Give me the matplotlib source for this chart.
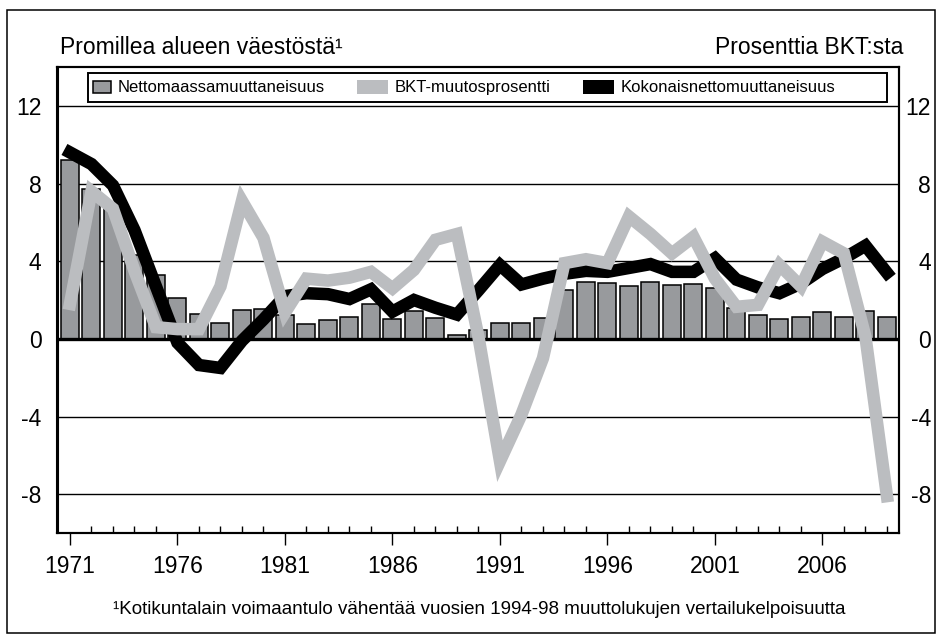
import matplotlib
matplotlib.use('Agg')
import matplotlib.pyplot as plt
import matplotlib.patches as mpatches
from matplotlib.legend_handler import HandlerPatch

plt.rcParams['font.family'] = ['Liberation Sans', 'DejaVu Sans']
plt.rcParams['axes.unicode_minus'] = False

# ---------------- data ----------------
years = list(range(1971, 2010))
domestic_net = [9.2, 7.7, 7.0, 4.3, 3.3, 2.1, 1.3, 0.8, 1.5, 1.55,
                1.25, 0.75, 0.95, 1.1, 1.8, 1.0, 1.45, 1.05, 0.2, 0.45,
                0.8, 0.8, 1.05, 2.5, 2.95, 2.85, 2.7, 2.95, 2.75, 2.8,
                2.6, 1.6, 1.25, 1.0, 1.1, 1.4, 1.15, 1.45, 1.15]
gdp_change = [1.8, 7.6, 6.7, 3.5, 0.6, 0.5, 0.5, 2.7, 7.1, 5.2,
              1.35, 3.1, 3.0, 3.15, 3.45, 2.6, 3.55, 5.1, 5.4, 0.1,
              -6.3, -3.9, -1.0, 3.9, 4.1, 3.9, 6.3, 5.4, 4.4, 5.25,
              3.1, 1.65, 1.75, 3.8, 2.7, 5.0, 4.4, 0.1, -8.1]
total_net = [9.6, 9.0, 7.9, 5.6, 2.7, -0.2, -1.35, -1.5, -0.1, 1.0,
             2.2, 2.35, 2.3, 2.05, 2.55, 1.4, 2.0, 1.6, 1.25, 2.5,
             3.8, 2.8, 3.1, 3.35, 3.5, 3.45, 3.65, 3.85, 3.45, 3.45,
             4.15, 3.05, 2.65, 2.35, 2.85, 3.6, 4.15, 4.8, 3.4]
ytick_vals = [-8, -4, 0, 4, 8, 12]
ytick_labels = ['-8', '-4', '0', '4', '8', '12']
xtick_years = [1971, 1976, 1981, 1986, 1991, 1996, 2001, 2006]
xtick_labels = ['1971', '1976', '1981', '1986', '1991', '1996', '2001', '2006']
legend_labels = ['Nettomaassamuuttaneisuus', 'BKT-muutosprosentti',
                 'Kokonaisnettomuuttaneisuus']
left_title = 'Promillea alueen väestöstä¹'
right_title = 'Prosenttia BKT:sta'
footnote = '¹Kotikuntalain voimaantulo vähentää vuosien 1994-98 muuttolukujen vertailukelpoisuutta'

# ---------------- style ----------------
BAR_FILL = '#989a9d'
GRAY = '#bbbdc0'
W, H, DPI = 941, 637, 100


def fx(px):
    return px / W


def fy(py):
    return 1 - py / H


fig = plt.figure(figsize=(W / DPI, H / DPI), dpi=DPI)
fig.patch.set_facecolor('white')

ax_l, ax_r, ax_t, ax_b = 57.5, 899, 67, 533
ax = fig.add_axes([fx(ax_l), fy(ax_b), (ax_r - ax_l) / W, (ax_b - ax_t) / H])
ax.set_xlim(1970.42, 2009.56)
ax.set_ylim(-10, 14)

# grid
ax.set_yticks(ytick_vals)
ax.set_yticklabels(ytick_labels)
ax.yaxis.grid(True, color='black', lw=1.0, zorder=0)
ax.set_axisbelow(True)

# bars
ax.bar(years, domestic_net, width=0.84, color=BAR_FILL, edgecolor='black',
       linewidth=1.1, zorder=2, label=legend_labels[0])
ax.axhline(0, color='black', lw=2.4, zorder=2.5)

# lines
ax.plot(years, total_net, color='black', lw=9, solid_joinstyle='miter',
        solid_capstyle='projecting', zorder=3)
ax.plot(years, gdp_change, color=GRAY, lw=9, solid_joinstyle='miter',
        solid_capstyle='projecting', zorder=4)

# x ticks
ax.set_xticks(xtick_years)
ax.set_xticklabels(xtick_labels)
ax.set_xticks(years, minor=True)
ax.tick_params(axis='x', which='major', direction='out', length=8.5,
               width=1.0, pad=7, labelsize=16.5)
ax.tick_params(axis='x', which='minor', direction='in', length=4.8, width=1.0)
ax.tick_params(axis='y', length=0, pad=11.5, labelsize=16.5)

for sp in ax.spines.values():
    sp.set_linewidth(1.5)
    sp.set_color('black')

# right axis (same scale)
ax2 = ax.twinx()
ax2.set_ylim(ax.get_ylim())
ax2.set_yticks(ytick_vals)
ax2.set_yticklabels(ytick_labels)
ax2.tick_params(axis='y', length=0, pad=23, labelsize=16.5)
for lab in ax2.get_yticklabels():
    lab.set_horizontalalignment('right')
for sp in ax2.spines.values():
    sp.set_linewidth(1.5)


# legend
def bar_patch(legend, orig_handle, xdescent, ydescent, width, height, fontsize):
    w = 18 * 0.72
    h = 12 * 0.72
    return mpatches.Rectangle((-xdescent + width - w, -ydescent + (height - h) / 2), w, h)


h_bar = mpatches.Patch(facecolor=BAR_FILL, edgecolor='black', linewidth=1.1)
h_gray = mpatches.Patch(facecolor=GRAY, edgecolor='none')
h_black = mpatches.Patch(facecolor='black', edgecolor='none')
leg = ax2.legend([h_bar, h_gray, h_black], legend_labels, ncol=3,
                 loc='center left', bbox_to_anchor=(fx(80), fy(87.5)),
                 bbox_transform=fig.transFigure, frameon=False,
                 borderpad=0, borderaxespad=0, fontsize=12,
                 handlelength=1.86, handleheight=0.96, handletextpad=0.42,
                 columnspacing=1.92,
                 handler_map={h_bar: HandlerPatch(patch_func=bar_patch)})
leg_frame = mpatches.Rectangle((fx(88), fy(102)), (887 - 88) / W, (102 - 73) / H,
                               transform=fig.transFigure, fill=False,
                               edgecolor='black', lw=1.4)
fig.add_artist(leg_frame)

# outer border
border = mpatches.Rectangle((fx(7), fy(633)), (935 - 7) / W, (633 - 10) / H,
                            transform=fig.transFigure, fill=False,
                            edgecolor='black', lw=1.1)
fig.add_artist(border)

# texts
fig.text(fx(60), fy(54), left_title, fontsize=16.5, ha='left', va='baseline')
fig.text(fx(903), fy(54), right_title, fontsize=16.5, ha='right', va='baseline')
fig.text(fx(479), fy(614), footnote, fontsize=13.5, ha='center', va='baseline')

fig.savefig('out.png', dpi=DPI)
